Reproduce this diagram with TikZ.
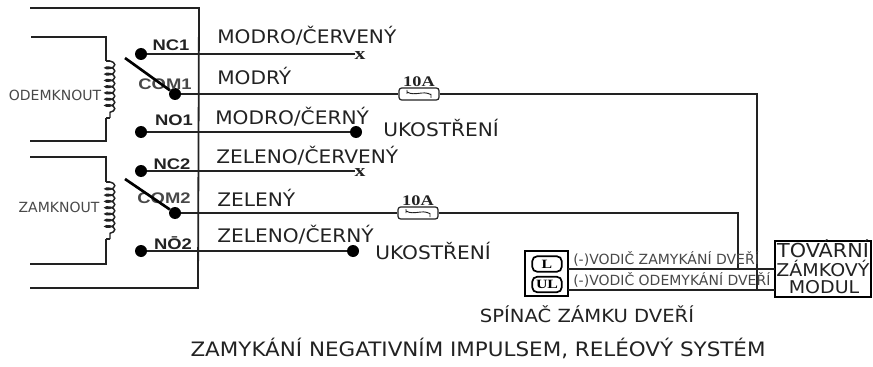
\documentclass[tikz,border=0pt]{standalone}
\usepackage{fontspec}
\setmainfont{DejaVu Sans}
\newfontfamily\widefont[FakeStretch=1.08]{DejaVu Sans}
\newfontfamily\armfont[FakeStretch=1.2]{Liberation Sans}
\newfontfamily\fusefont[FakeStretch=1.25]{Liberation Serif}
\usetikzlibrary{decorations.pathmorphing}
\definecolor{ink}{HTML}{222222}
\definecolor{soft}{HTML}{484848}
\tikzset{
  wire/.style={draw=ink,line width=1.35pt},
  heavy/.style={draw=black,line width=2pt},
  term/.style={circle,fill=black,inner sep=0pt,minimum width=9pt,minimum height=8pt},
  lab/.style={anchor=west,inner sep=0pt,text=ink,font=\widefont\fontsize{14}{16}\selectfont},
  pin/.style={inner sep=0pt,text=ink,font=\armfont\bfseries\fontsize{11.5}{13}\selectfont},
  pinsoft/.style={pin,text=soft},
  coilname/.style={inner sep=0pt,text=soft,font=\fontsize{10.5}{12}\selectfont},
  fuse/.style={draw=ink,line width=.9pt,rounded corners=2pt,fill=white,minimum width=30pt,minimum height=9pt,inner sep=0pt},
  amp/.style={inner sep=0pt,text=ink,font=\fusefont\bfseries\fontsize{11}{12}\selectfont},
  xmark/.style={inner sep=0pt,text=ink,font=\fusefont\bfseries\fontsize{13}{14}\selectfont},
  coilshape/.style={draw=ink,line width=1.1pt,decorate,decoration={coil,aspect=0.45,segment length=4.7pt,amplitude=3.6pt}},
  box/.style={draw=black,line width=1.3pt,inner sep=0pt},
  key/.style={draw=black,line width=1.3pt,rounded corners=3.5pt,inner sep=0pt,minimum width=22pt,minimum height=11.5pt,font=\fusefont\bfseries\fontsize{9.5}{10}\selectfont},
  wiretext/.style={anchor=west,inner sep=0pt,text=soft,font=\fontsize{10.5}{12}\selectfont},
  modtext/.style={inner sep=0pt,text=ink,font=\widefont\fontsize{13.2}{15}\selectfont}
}
\begin{document}
\begin{tikzpicture}[x=0.75pt,y=-0.75pt]
\useasboundingbox (0,0) rectangle (873,367);
% housing
\coordinate (hA) at (30,8); \coordinate (hB) at (199,8); \coordinate (hC) at (198,288); \coordinate (hD) at (30,288);
\draw[wire] (hA) -- (hB) -- (hC) -- (hD);
% coils
\coordinate (c1a) at (31,37); \coordinate (c1b) at (106,37); \coordinate (c1c) at (106,61);
\coordinate (c1d) at (106,118); \coordinate (c1e) at (106,141); \coordinate (c1f) at (30,141);
\coordinate (c2a) at (30,157); \coordinate (c2b) at (106,157); \coordinate (c2c) at (106,182);
\coordinate (c2d) at (106,239); \coordinate (c2e) at (106,264); \coordinate (c2f) at (30,264);
\draw[wire] (c1a) -- (c1b) -- (c1c) (c1d) -- (c1e) -- (c1f);
\draw[wire] (c2a) -- (c2b) -- (c2c) (c2d) -- (c2e) -- (c2f);
\draw[coilshape] (110,61) -- (110,118);
\draw[coilshape] (110,182) -- (110,239);
\draw[wire,line width=1pt] (c1c) -- (110,61) (c1d) -- (110,118) (c2c) -- (110,182) (c2d) -- (110,239);
\node[coilname] (lodem) at (55,95) {ODEMKNOUT};
\node[coilname] (lzam) at (59,207) {ZAMKNOUT};
% terminals
\node[term] (nc1) at (141,54) {};
\node[term] (com1) at (175,94) {};
\node[term] (no1) at (141,132) {};
\node[term] (nc2) at (141,171) {};
\node[term] (com2) at (175,213) {};
\node[term] (no2) at (141,251) {};
% far ends
\node[xmark] (x1) at (360,56) {x};
\node[xmark] (x2) at (360,173) {x};
\node[term] (g1) at (356,132) {};
\node[term] (g2) at (353,251) {};
% fuses
\node[fuse] (f1) at (419,94) {};
\node[fuse] (f2) at (418,213) {};
\foreach \f in {f1,f2}{
  \draw[ink,line width=.7pt] ([xshift=-9pt]\f.center) -- ++(0,3pt) ([xshift=9pt]\f.center) -- ++(0,-3pt)
    ([xshift=-9pt,yshift=1.5pt]\f.center) .. controls ([xshift=-3pt,yshift=-2pt]\f.center) and ([xshift=3pt,yshift=3pt]\f.center) .. ([xshift=9pt,yshift=-.5pt]\f.center);
}
\node[amp] (a1) at (419,82) {10A};
\node[amp] (a2) at (418,201) {10A};
% switch and module boxes
\node[box,minimum width=32pt,minimum height=33.5pt] (sw) at (546.5,273.5) {};
\node[key] (kl) at (547,264) {L};
\node[key] (kul) at (547,284.5) {UL};
\node[box,minimum width=72pt,minimum height=42pt,fill=white] (mod) at (823,269) {};
% wiring
\draw[wire] (nc1) -- (355,54);
\draw[wire] (no1) -- (g1);
\draw[wire] (nc2) -- (355,171);
\draw[wire] (no2) -- (g2);
\draw[wire] (com1) -- (f1);
\draw[wire] (com2) -- (f2);
\coordinate (t1) at (757,94); \coordinate (b1) at (757,290);
\coordinate (t2) at (738,213); \coordinate (b2) at (738,269);
\draw[wire] (f1) -- (t1) -- (b1);
\draw[wire] (f2) -- (t2) -- (b2);
\coordinate (sw1) at (568,269); \coordinate (sw2) at (568,290);
\coordinate (m1) at (775,269); \coordinate (m2) at (775,290);
\draw[wire] (sw1) -- (m1);
\draw[wire] (sw2) -- (m2);
% module text
\node[modtext,font=\widefont\fontsize{14.4}{15}\selectfont] (mt1) at (823,249) {TOVÁRNÍ};
\node[modtext] (mt2) at (823,268) {ZÁMKOVÝ};
\node[modtext] (mt3) at (824,287) {MODUL};
% switch arms
\coordinate (arm1) at (125,58); \coordinate (arm2) at (125,179);
% pin labels under arms
\node[pin] (lnc1) at (171,45) {NC1};
\node[pinsoft] (lcom1) at (165,84) {COM1};
\node[pin] (lno1) at (174,120) {NO1};
\node[pin] (lnc2) at (172,164) {NC2};
\node[pinsoft] (lcom2) at (164,198) {COM2};
\node[pin] (lno2) at (173,243) {NŌ2};
\draw[heavy] (arm1) -- (com1);
\draw[heavy] (arm2) -- (com2);
% wire colours
\node[lab] (t1a) at (217,36) {MODRO/ČERVENÝ};
\node[lab] (t1b) at (217,76) {MODRÝ};
\node[lab] (t1c) at (215,117) {MODRO/ČERNÝ};
\node[lab] (t2a) at (216,156) {ZELENO/ČERVENÝ};
\node[lab] (t2b) at (217,198) {ZELENÝ};
\node[lab] (t2c) at (217,235) {ZELENO/ČERNÝ};
\node[lab] (u1) at (383,128) {UKOSTŘENÍ};
\node[lab] (u2) at (375,251) {UKOSTŘENÍ};
\node[wiretext] (w1) at (573,259) {(-)VODIČ ZAMYKÁNÍ DVEŘÍ};
\node[wiretext] (w2) at (573,280) {(-)VODIČ ODEMYKÁNÍ DVEŘÍ};
\node[lab,anchor=center,font=\widefont\fontsize{13.6}{15}\selectfont] (sp) at (587,314) {SPÍNAČ ZÁMKU DVEŘÍ};
\node[lab,anchor=center,font=\widefont\fontsize{14.9}{17}\selectfont] (cap) at (478,348) {ZAMYKÁNÍ NEGATIVNÍM IMPULSEM, RELÉOVÝ SYSTÉM};
\end{tikzpicture}
\end{document}
